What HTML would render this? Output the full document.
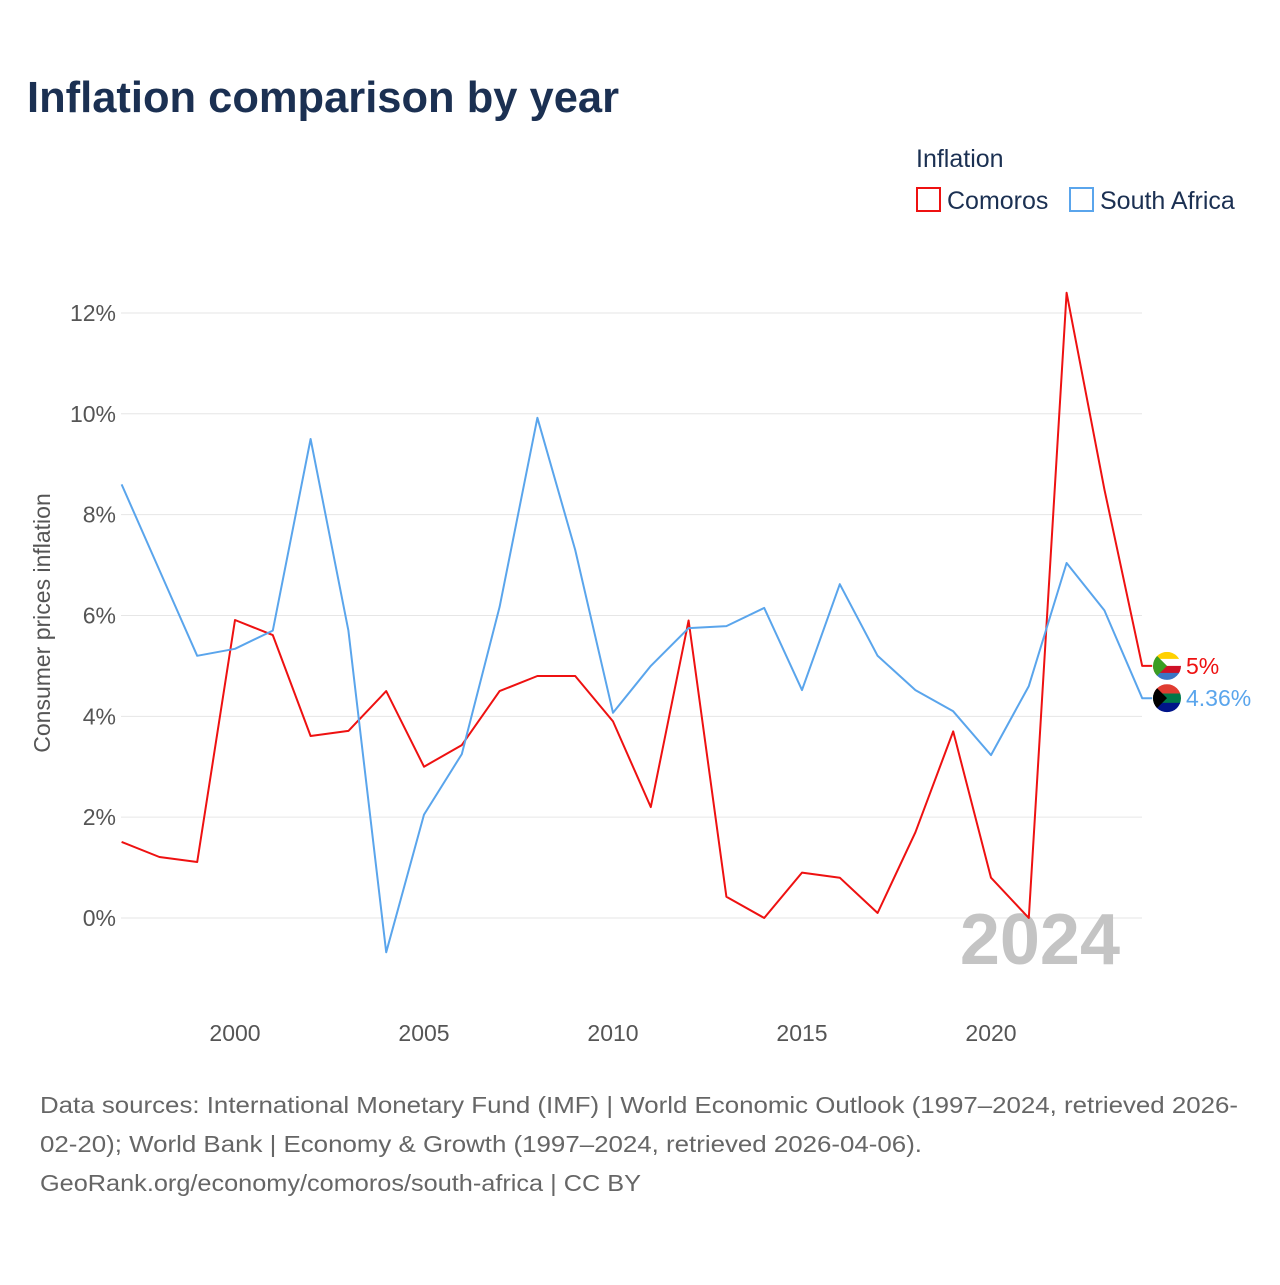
<!DOCTYPE html>
<html><head><meta charset="utf-8">
<style>
body{margin:0;background:#fff;font-family:"Liberation Sans",sans-serif;}
svg text{font-family:"Liberation Sans",sans-serif;}
</style></head>
<body>
<svg id="chart" width="1280" height="1280" viewBox="0 0 1280 1280">
<text x="27" y="112" font-size="44" font-weight="bold" fill="#1b3052" textLength="592" lengthAdjust="spacingAndGlyphs">Inflation comparison by year</text>
<text x="916" y="167" font-size="25" fill="#1b3052">Inflation</text>
<g>
<rect x="917" y="188" width="23" height="23" fill="none" stroke="#ee1111" stroke-width="2"/>
<text x="947" y="209" font-size="25" fill="#1b3052">Comoros</text></g>
<g>
<rect x="1070" y="188" width="23" height="23" fill="none" stroke="#5aa5ec" stroke-width="2"/>
<text x="1100" y="209" font-size="25" fill="#1b3052">South Africa</text></g>
<g id="grid"></g>
<g id="yticks"></g>
<g id="xticks"></g>
<text transform="translate(50,623) rotate(-90)" text-anchor="middle" font-size="23" fill="#555">Consumer prices inflation</text>
<text x="1120" y="964" text-anchor="end" font-size="72" font-weight="bold" fill="#c4c4c4">2024</text>
<g id="series"></g>
<text x="40" y="1113" font-size="23" fill="#666" textLength="1198" lengthAdjust="spacingAndGlyphs">Data sources: International Monetary Fund (IMF) | World Economic Outlook (1997–2024, retrieved 2026-</text>
<text x="40" y="1152" font-size="23" fill="#666" textLength="882" lengthAdjust="spacingAndGlyphs">02-20); World Bank | Economy &amp; Growth (1997–2024, retrieved 2026-04-06).</text>
<text x="40" y="1191" font-size="23" fill="#666" textLength="601" lengthAdjust="spacingAndGlyphs">GeoRank.org/economy/comoros/south-africa | CC BY</text>
</svg>
<script>
const years=[1997,1998,1999,2000,2001,2002,2003,2004,2005,2006,2007,2008,2009,2010,2011,2012,2013,2014,2015,2016,2017,2018,2019,2020,2021,2022,2023,2024];
const comoros=[1.51,1.21,1.11,5.91,5.61,3.61,3.71,4.5,3.0,3.43,4.5,4.8,4.8,3.9,2.2,5.9,0.42,0,0.9,0.8,0.1,1.7,3.7,0.8,0,12.4,8.5,5.0];
const southAfrica=[8.6,6.9,5.2,5.34,5.7,9.5,5.7,-0.68,2.05,3.25,6.17,9.92,7.3,4.07,5.0,5.75,5.79,6.15,4.52,6.62,5.2,4.52,4.1,3.23,4.6,7.04,6.1,4.36];
const yTicks=[0,2,4,6,8,10,12];
const xTicks=[2000,2005,2010,2015,2020];
const NS="http://www.w3.org/2000/svg";
const X=y=>121.6+(y-1997)*37.8;
const Y=v=>918-v*50.42;
function mk(t,a,p){const e=document.createElementNS(NS,t);for(const k in a)e.setAttribute(k,a[k]);p.appendChild(e);return e;}
const grid=document.getElementById('grid'),yt=document.getElementById('yticks'),xt=document.getElementById('xticks'),ser=document.getElementById('series');
yTicks.forEach(v=>{
 const l=mk('line',{x1:121,x2:1142,y1:Y(v),y2:Y(v),stroke:'#e6e6e6','stroke-width':1},grid);
 
 
 const t=mk('text',{x:116,y:Y(v)+8,'text-anchor':'end','font-size':23,fill:'#555'},yt);
 t.textContent=v+'%';
 
 
});
xTicks.forEach(v=>{
 const t=mk('text',{x:X(v),y:1041,'text-anchor':'middle','font-size':23,fill:'#555'},xt);
 t.textContent=v;
 
 
});
function draw(vals,color,name,label,flag){
 let d=vals.map((v,i)=>(i?'L':'M')+X(years[i]).toFixed(1)+','+Y(v).toFixed(1)).join(' ');
 const last=vals[vals.length-1];
 d+=' L'+(X(2024)+10)+','+Y(last).toFixed(1);
 const p=mk('path',{d:d,fill:'none',stroke:color,'stroke-width':2,'stroke-linejoin':'round'},ser);
 
 
 const g=mk('g',{},ser);
 
 
 const cx=1167,cy=Y(last);
 mk('clipPath',{id:'c'+name},g).appendChild(document.createElementNS(NS,'circle'));
 const c=g.querySelector('circle');c.setAttribute('cx',cx);c.setAttribute('cy',cy);c.setAttribute('r',14);
 const cg=mk('g',{'clip-path':'url(#c'+name+')'},g);
 flag.forEach((col,i)=>mk('rect',{x:cx-14,y:cy-14+i*28/flag.length,width:28,height:28/flag.length+0.5,fill:col},cg));
 mk('polygon',{points:(cx-14)+','+(cy-14)+' '+(cx)+','+cy+' '+(cx-14)+','+(cy+14),fill:name==='comoros'?'#3a9d23':'#000'},cg);
 const t=mk('text',{x:1186,y:cy+8,'font-size':23,fill:color},ser);
 t.textContent=label(last);
 
 
}
draw(comoros,'#ee1111','comoros',v=>v+'%',['#ffd100','#ffffff','#ce1126','#3a75c4']);
draw(southAfrica,'#5aa5ec','south-africa',v=>v+'%',['#e03c31','#007749','#001489']);
</script>
</body></html>
